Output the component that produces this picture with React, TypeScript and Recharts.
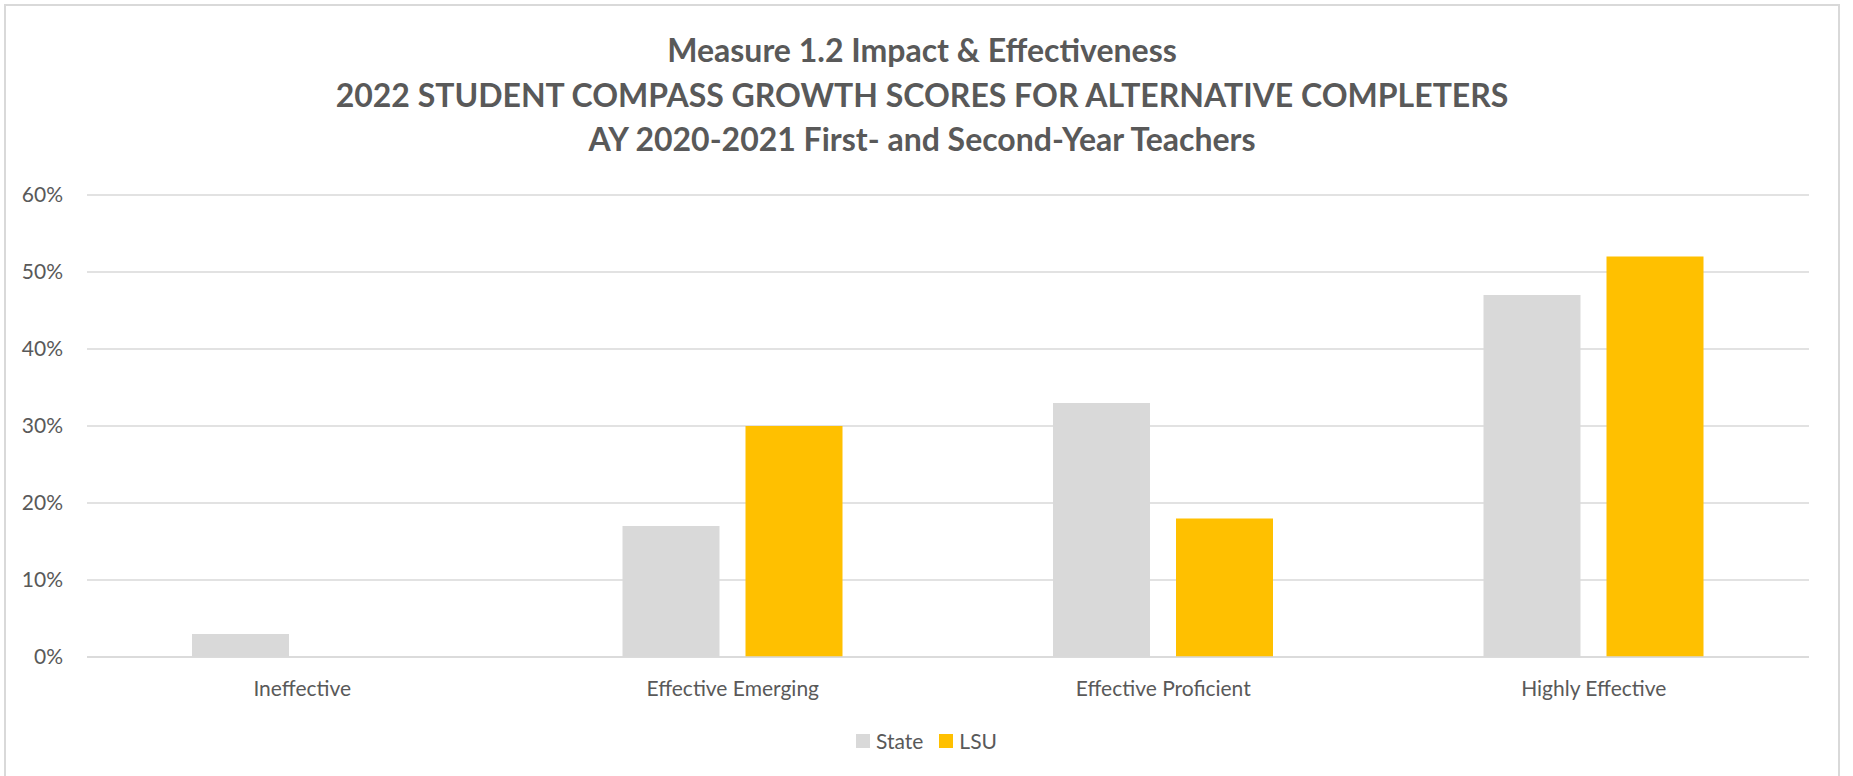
import { BarChart, Bar, XAxis, YAxis, CartesianGrid } from 'recharts'

const categories = ['Ineffective', 'Effective Emerging', 'Effective Proficient', 'Highly Effective']
const stateValues = [0.03, 0.17, 0.33, 0.47]
const lsuValues = [0, 0.3, 0.18, 0.52]
const yTicks = [0, 0.1, 0.2, 0.3, 0.4, 0.5, 0.6]
const titleLines = [
  'Measure 1.2 Impact & Effectiveness',
  '2022 STUDENT COMPASS GROWTH SCORES FOR ALTERNATIVE COMPLETERS',
  'AY 2020-2021 First- and Second-Year Teachers'
]

const W = 1853
const H = 776
const FONT = 'Lato, "Open Sans", sans-serif'
const TEXT = '#595959'
const GRID = '#d9d9d9'
const STATE_COLOR = '#d9d9d9'
const LSU_COLOR = '#ffc000'

const data = categories.map((name, i) => ({ name, State: stateValues[i], LSU: lsuValues[i] }))

// legend sits outside the chart so it doesn't shrink the plot area
function ChartLegend() {
  const items = [
    { label: 'State', color: STATE_COLOR },
    { label: 'LSU', color: LSU_COLOR }
  ]
  return (
    <div
      style={{
        position: 'absolute',
        left: 0,
        top: 728,
        width: W,
        display: 'flex',
        justifyContent: 'center',
        fontFamily: FONT,
        fontSize: 21,
        color: TEXT
      }}
    >
      {items.map((it) => (
        <div key={it.label} style={{ display: 'flex', alignItems: 'center', margin: '0 8px' }}>
          <span style={{ width: 14, height: 14, background: it.color, marginRight: 6, display: 'inline-block' }} />
          <span>{it.label}</span>
        </div>
      ))}
    </div>
  )
}

export default function App() {
  return (
    <div style={{ position: 'fixed', left: 0, top: 0, width: W, height: H, background: '#fff', overflow: 'hidden' }}>
      <div
        style={{
          position: 'absolute',
          left: 4,
          top: 4,
          width: 1832,
          height: 800,
          border: `2px solid ${GRID}`
        }}
      />
      <svg style={{ position: 'absolute', left: 0, top: 0 }} width={W} height={170}>
        {titleLines.map((t, i) => (
          <text
            key={i}
            x={922}
            y={62 + i * 44.5}
            textAnchor="middle"
            fontFamily={FONT}
            fontWeight={700}
            fontSize={32}
            fill={TEXT}
          >
            {t}
          </text>
        ))}
      </svg>
      <div style={{ position: 'absolute', left: 0, top: 0 }}>
        <BarChart
          width={W}
          height={H}
          data={data}
          margin={{ top: 195, right: 44, bottom: 0, left: 0 }}
          barSize={97}
          barGap={26}
        >
          <CartesianGrid vertical={false} stroke={GRID} strokeWidth={1.5} />
          <XAxis
            dataKey="name"
            axisLine={{ stroke: GRID, strokeWidth: 1.5 }}
            tickLine={false}
            tickSize={0}
            tickMargin={24}
            tick={{ fill: TEXT, fontSize: 21, fontFamily: FONT }}
            height={119}
          />
          <YAxis
            width={87}
            domain={[0, 0.6]}
            ticks={yTicks}
            tickFormatter={(v: number) => `${Math.round(v * 100)}%`}
            axisLine={false}
            tickLine={false}
            tickSize={0}
            tickMargin={24}
            tick={{ fill: TEXT, fontSize: 21, fontFamily: FONT }}
          />
          <Bar dataKey="State" fill={STATE_COLOR} isAnimationActive={false} />
          <Bar dataKey="LSU" fill={LSU_COLOR} isAnimationActive={false} />
        </BarChart>
      </div>
      <ChartLegend />
    </div>
  )
}
